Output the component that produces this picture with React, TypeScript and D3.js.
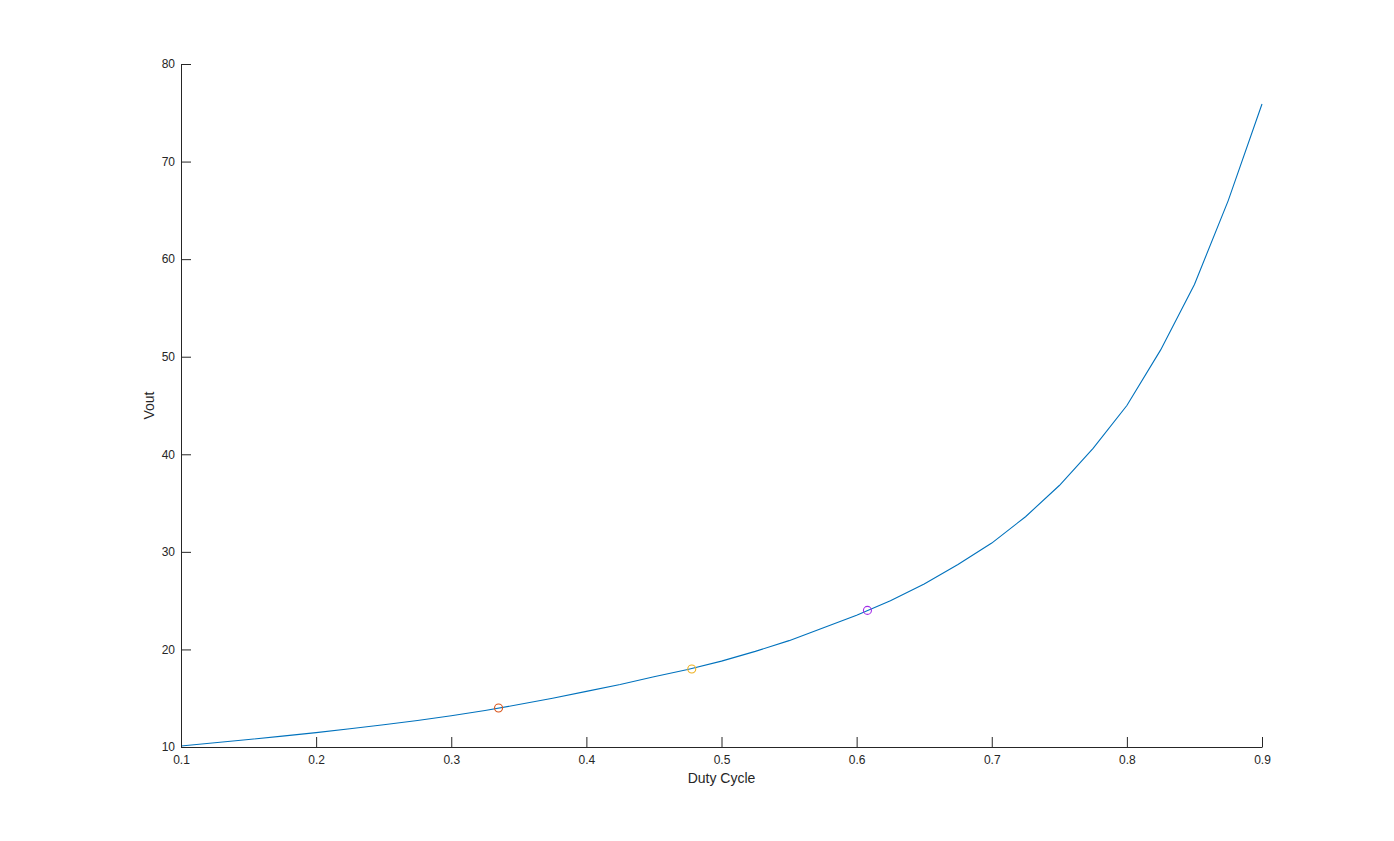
import { useEffect, useRef } from 'react'
import * as d3 from 'd3'

// Duty cycle sweep (step 0.025)
const duty = [
  0.1, 0.125, 0.15, 0.175, 0.2, 0.225, 0.25, 0.275, 0.3, 0.325, 0.35,
  0.375, 0.4, 0.425, 0.45, 0.475, 0.5, 0.525, 0.55, 0.575, 0.6, 0.625,
  0.65, 0.675, 0.7, 0.725, 0.75, 0.775, 0.8, 0.825, 0.85, 0.875, 0.9,
]
const vout = [
  10.1, 10.43, 10.77, 11.11, 11.47, 11.87, 12.28, 12.72, 13.2, 13.74, 14.35,
  15.0, 15.7, 16.4, 17.2, 17.95, 18.8, 19.8, 20.9, 22.2, 23.5, 25.0,
  26.7, 28.7, 30.9, 33.6, 36.8, 40.6, 45.0, 50.7, 57.4, 66.0, 75.9,
]

// Highlighted operating points
const markerD = [0.335, 0.478, 0.608]
const markerV = [14.0, 18.0, 24.0]
const markerColors = ['#D95319', '#EDB120', '#A22EE8']

const xTicks = [0.1, 0.2, 0.3, 0.4, 0.5, 0.6, 0.7, 0.8, 0.9]
const yTicks = [10, 20, 30, 40, 50, 60, 70, 80]

const W = 1394, H = 841
const AX = '#262626'

export default function App() {
  const svgRef = useRef<SVGSVGElement>(null)

  useEffect(() => {
    const svg = d3.select(svgRef.current)
    svg.selectAll('*').remove()

    const x = d3.scaleLinear([0.1, 0.9], [181, 1262])
    const y = d3.scaleLinear([10, 80], [747, 64])
    const font = 'Helvetica, Arial, "Liberation Sans", sans-serif'

    // curve
    const line = d3.line<number>().x((_, i) => x(duty[i])).y((v) => y(v))
    svg.append('path')
      .datum(vout)
      .attr('d', line)
      .attr('fill', 'none')
      .attr('stroke', '#0072BD')
      .attr('stroke-width', 1.1)

    // markers
    markerD.forEach((d, i) => {
      svg.append('circle')
        .attr('cx', x(d)).attr('cy', y(markerV[i]))
        .attr('r', 4)
        .attr('fill', 'none')
        .attr('stroke', markerColors[i])
        .attr('stroke-width', 1.1)
    })

    // x axis
    const gx = svg.append('g').attr('transform', `translate(0,${y(10)})`)
    const xAxis = d3.axisBottom(x).tickValues(xTicks).tickSize(-10).tickSizeOuter(0)
      .tickFormat((d) => String(+d))
    gx.call(xAxis)
    gx.select('.domain').attr('stroke', AX)
    gx.selectAll('.tick line').attr('stroke', AX)
    gx.selectAll('.tick text')
      .attr('fill', AX).attr('font-family', font).attr('font-size', 12)
      .attr('y', 8).attr('dy', '0.71em')

    // y axis
    const gy = svg.append('g').attr('transform', `translate(${x(0.1)},0)`)
    const yAxis = d3.axisLeft(y).tickValues(yTicks).tickSize(-10).tickSizeOuter(0)
    gy.call(yAxis)
    gy.select('.domain').attr('stroke', AX)
    gy.selectAll('.tick line').attr('stroke', AX)
    gy.selectAll('.tick text')
      .attr('fill', AX).attr('font-family', font).attr('font-size', 12)
      .attr('x', -6)

    // labels
    svg.append('text')
      .attr('x', (x(0.1) + x(0.9)) / 2).attr('y', 783)
      .attr('text-anchor', 'middle')
      .attr('font-family', font).attr('font-size', 14)
      .attr('fill', AX)
      .text('Duty Cycle')

    svg.append('text')
      .attr('transform', `translate(154,${(y(10) + y(80)) / 2}) rotate(-90)`)
      .attr('text-anchor', 'middle')
      .attr('font-family', font).attr('font-size', 14)
      .attr('fill', AX)
      .text('Vout')
  }, [])

  return (
    <div style={{ position: 'fixed', left: 0, top: 0, width: W, height: H, background: '#fff' }}>
      <svg ref={svgRef} width={W} height={H} style={{ display: 'block' }} />
    </div>
  )
}
